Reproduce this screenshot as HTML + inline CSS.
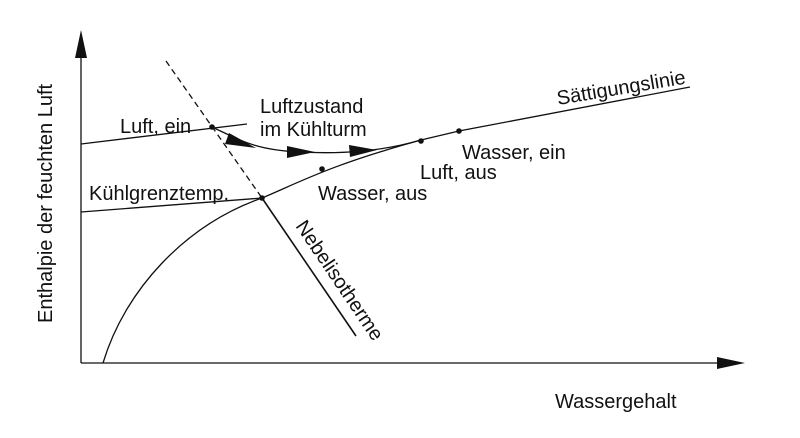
<!DOCTYPE html>
<html><head><meta charset="utf-8"><style>
html,body{margin:0;padding:0;background:#fff;}
svg{display:block;}
text{font-family:"Liberation Sans",sans-serif;font-size:20px;fill:#111;}
</style></head><body>
<svg width="800" height="438" viewBox="0 0 800 438" xmlns="http://www.w3.org/2000/svg">
<g stroke="#111" stroke-width="1.3" fill="none">
<line x1="81" y1="363" x2="81" y2="55"/>
<line x1="81" y1="363" x2="720" y2="363"/>
<path d="M103,363 C125,290 185,225 262,198 C300,182 330,165 421,140 L459,131 L690,87"/>
<line x1="81" y1="144" x2="247" y2="124"/>
<line x1="81" y1="212" x2="262" y2="198"/>
<line x1="166" y1="61" x2="262" y2="198" stroke-dasharray="6,4"/>
<line x1="262" y1="198" x2="356" y2="336" stroke-width="1.6"/>
<path d="M212,127 C240,140 255,150 300,152 C340,154 380,152 421,140"/>
</g>
<g fill="#111">
<polygon points="81,30 75,58 87,58"/>
<polygon points="745,363 717,357 717,369"/>
<polygon points="256,148 229,133 225,144"/>
<polygon points="315,152 287,146 287,158"/>
<polygon points="377,150 349,145 350,157"/>
<circle cx="212" cy="127" r="2.8"/><circle cx="262" cy="198" r="2.8"/>
<circle cx="322" cy="169" r="2.8"/><circle cx="421" cy="141" r="2.8"/>
<circle cx="459" cy="131" r="2.8"/>
</g>
<text x="120" y="133">Luft, ein</text>
<text x="260" y="113">Luftzustand</text>
<text x="260" y="136">im Kühlturm</text>
<text x="89" y="200">Kühlgrenztemp.</text>
<text x="318" y="200">Wasser, aus</text>
<text x="420" y="179">Luft, aus</text>
<text x="462" y="159">Wasser, ein</text>
<text transform="translate(558,105) rotate(-9.5)">Sättigungslinie</text>
<text transform="translate(295,226) rotate(56)">Nebelisotherme</text>
<text x="555" y="408">Wassergehalt</text>
<text transform="translate(52,323) rotate(-90)">Enthalpie der feuchten Luft</text>
</svg>
</body></html>
